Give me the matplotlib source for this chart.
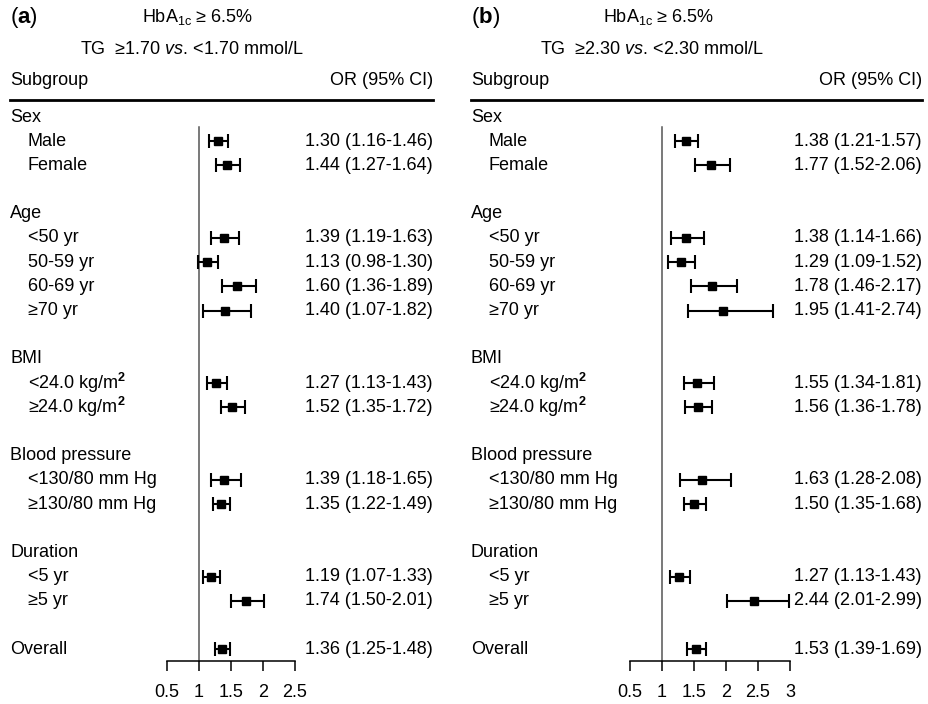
import matplotlib
matplotlib.use("Agg")
import matplotlib.pyplot as plt
import matplotlib.transforms as mtransforms

plt.rcParams["font.family"] = ["Liberation Sans", "DejaVu Sans"]
plt.rcParams["mathtext.fontset"] = "custom"
plt.rcParams["mathtext.rm"] = "Liberation Sans"
plt.rcParams["mathtext.it"] = "Liberation Sans:italic"
plt.rcParams["mathtext.bf"] = "Liberation Sans:bold"

# subgroup rows (header rows have no estimate)
groups = ["Sex", "Age", "BMI", "Blood pressure", "Duration"]
subgroups = [
    ["Male", "Female"],
    ["<50 yr", "50-59 yr", "60-69 yr", "≥70 yr"],
    [r"<24.0 kg/m$^\mathbf{2}$", r"≥24.0 kg/m$^\mathbf{2}$"],
    ["<130/80 mm Hg", "≥130/80 mm Hg"],
    ["<5 yr", "≥5 yr"],
]

# panel (a): TG >= 1.70 vs < 1.70
or_a = [1.30, 1.44, 1.39, 1.13, 1.60, 1.40, 1.27, 1.52, 1.39, 1.35, 1.19, 1.74, 1.36]
lo_a = [1.16, 1.27, 1.19, 0.98, 1.36, 1.07, 1.13, 1.35, 1.18, 1.22, 1.07, 1.50, 1.25]
hi_a = [1.46, 1.64, 1.63, 1.30, 1.89, 1.82, 1.43, 1.72, 1.65, 1.49, 1.33, 2.01, 1.48]
ticks_a = [0.5, 1, 1.5, 2, 2.5]

# panel (b): TG >= 2.30 vs < 2.30
or_b = [1.38, 1.77, 1.38, 1.29, 1.78, 1.95, 1.55, 1.56, 1.63, 1.50, 1.27, 2.44, 1.53]
lo_b = [1.21, 1.52, 1.14, 1.09, 1.46, 1.41, 1.34, 1.36, 1.28, 1.35, 1.13, 2.01, 1.39]
hi_b = [1.57, 2.06, 1.66, 1.52, 2.17, 2.74, 1.81, 1.78, 2.08, 1.68, 1.43, 2.99, 1.69]
ticks_b = [0.5, 1, 1.5, 2, 2.5, 3]

W, H = 929, 704
FS = 13
fig = plt.figure(figsize=(W / 100, H / 100), dpi=100)


def px(x):
    return x / W


def build_rows():
    rows = []  # (y, label, indent, estimate index or None)
    y = 0
    k = 0
    for g, subs in zip(groups, subgroups):
        rows.append((y, g, False, None))
        y += 1
        for s in subs:
            rows.append((y, s, True, k))
            k += 1
            y += 1
        y += 1
    rows.append((y, "Overall", False, k))
    return rows


def panel(tag, tg, ors, los, his, ticks, x0, ax_l, ax_r, right, hb_x, tg_x):
    ax = fig.add_axes([px(ax_l), 0, px(ax_r - ax_l), 1])
    ax.set_xlim(ticks[0], ticks[-1])
    ax.set_ylim((H - 117) / 24.2, -117 / 24.2)
    tr = mtransforms.blended_transform_factory(fig.transFigure, ax.transData)

    rows = build_rows()
    for y, lab, indent, k in rows:
        ax.text(px(x0 + (18 if indent else 0)), y, lab, transform=tr,
                fontsize=FS, va="center", ha="left")
        if k is None:
            continue
        ax.errorbar(ors[k], y, xerr=[[ors[k] - los[k]], [his[k] - ors[k]]],
                    fmt="s", color="black", ms=6, lw=1.5, capsize=5,
                    capthick=1.5, clip_on=False, zorder=3)
        ax.text(px(right), y, f"{ors[k]:.2f} ({los[k]:.2f}-{his[k]:.2f})",
                transform=tr, fontsize=FS, va="center", ha="right")

    # reference line at OR = 1
    ax.plot([1, 1], [0.4, 22.5], color="#555555", lw=1.1, zorder=1)

    # axis
    for s in ["top", "left", "right"]:
        ax.spines[s].set_visible(False)
    ax.spines["bottom"].set_position(("data", 22.5))
    ax.spines["bottom"].set_linewidth(1.1)
    ax.set_yticks([])
    ax.set_xticks(ticks)
    ax.set_xticklabels([f"{t:g}" for t in ticks])
    ax.tick_params(axis="x", direction="out", length=7.5, width=1.1,
                   labelsize=FS, pad=9)
    ax.patch.set_visible(False)

    # header
    ax.text(px(x0), -4.13, "(" + r"$\mathbf{" + tag + "}$" + ")", transform=tr,
            fontsize=16, va="center")
    ax.text(px(hb_x), -4.13, r"HbA$_{\mathregular{1c}}$ ≥ 6.5%", transform=tr,
            fontsize=FS, va="center")
    ax.text(px(tg_x), -2.77, "TG  ≥" + tg + r" $\mathit{vs}$. <" + tg + " mmol/L",
            transform=tr, fontsize=FS, va="center")
    ax.text(px(x0), -1.5, "Subgroup", transform=tr, fontsize=FS, va="center")
    ax.text(px(right), -1.5, "OR (95% CI)", transform=tr, fontsize=FS,
            va="center", ha="right")
    ax.plot([px(x0), px(right)], [-0.7, -0.7], transform=tr, color="black",
            lw=2, clip_on=False)


panel("a", "1.70", or_a, lo_a, hi_a, ticks_a, 10, 167, 295, 433, 142, 80)
panel("b", "2.30", or_b, lo_b, hi_b, ticks_b, 471, 630, 790, 922, 603, 540)

fig.savefig("out.png", dpi=100)
